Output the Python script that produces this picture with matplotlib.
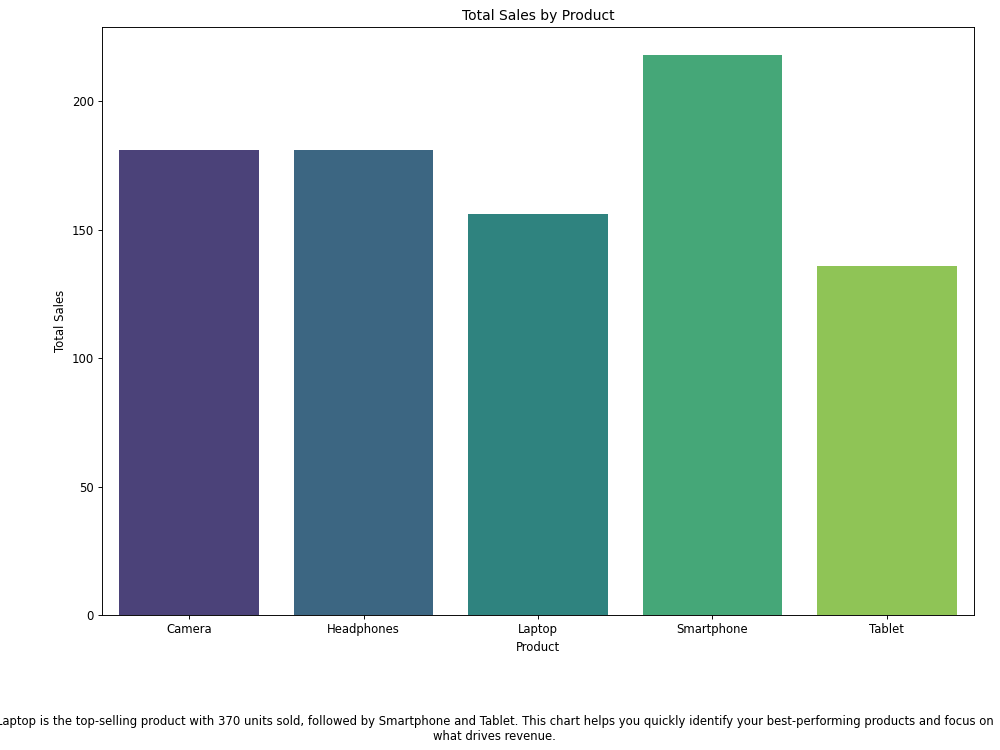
import matplotlib
matplotlib.use("Agg")
import matplotlib.pyplot as plt
import seaborn as sns

products = ["Camera", "Headphones", "Laptop", "Smartphone", "Tablet"]
total_sales = [181, 181, 156, 218, 136]

caption = ("Laptop is the top-selling product with 370 units sold, followed by Smartphone and Tablet. "
           "This chart helps you quickly identify your best-performing products and focus on\n"
           "what drives revenue.")

DPI = 1000 / 12
fig = plt.figure(figsize=(12, 9), dpi=DPI)
ax = fig.add_axes([0.102, 0.18, 0.872, 0.784])
sns.barplot(x=products, y=total_sales, hue=products, palette="viridis", legend=False, ax=ax)
ax.set_title("Total Sales by Product")
ax.set_xlabel("Product")
ax.set_ylabel("Total Sales")
fig.text(0.4945, 0.010, caption, ha="center", va="bottom", fontsize=10)
fig.savefig("out.png", dpi=DPI)
